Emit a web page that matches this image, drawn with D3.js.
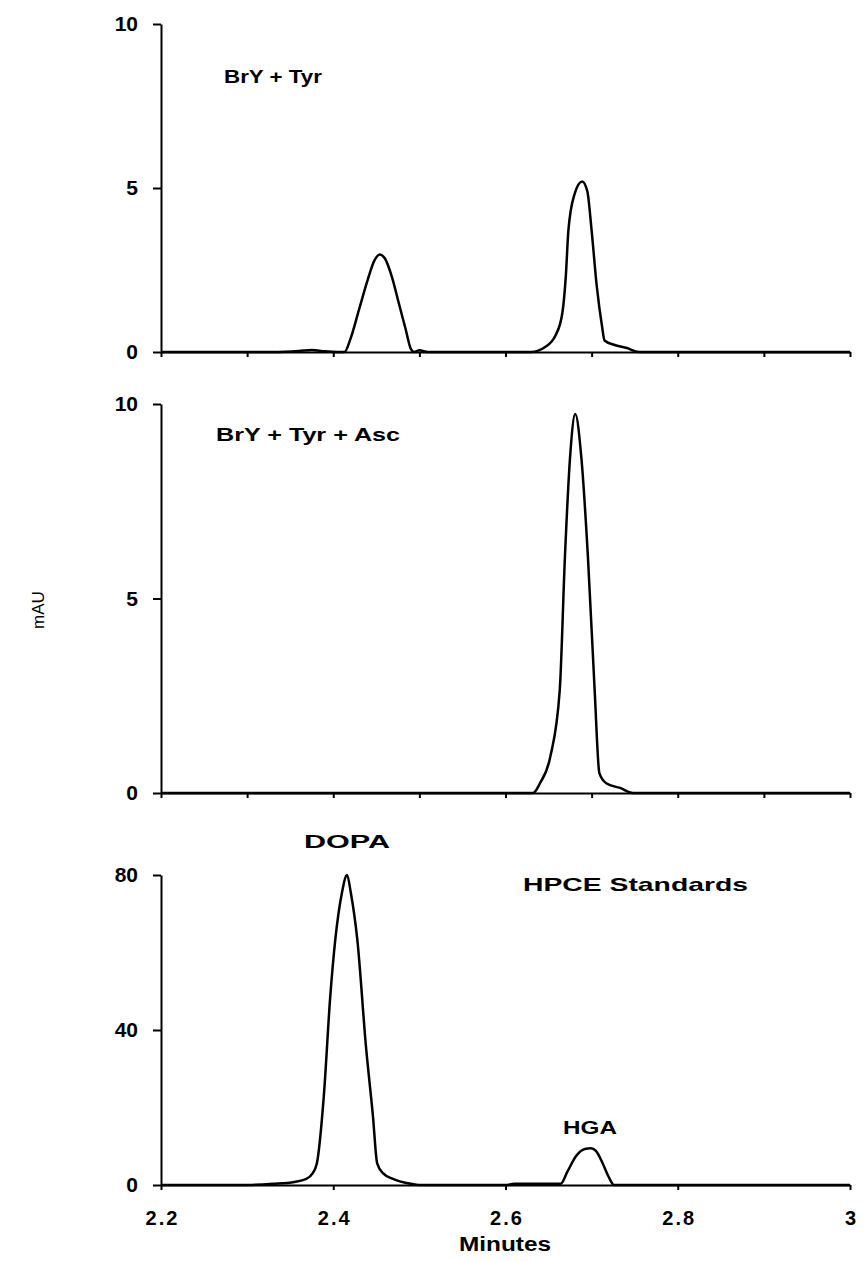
<!DOCTYPE html>
<html>
<head>
<meta charset="utf-8">
<script src="https://cdn.jsdelivr.net/npm/d3@7"></script>
<style>
  body { margin: 0; background: #fff; }
  text { font-family: "Liberation Sans", Arial, sans-serif; fill: #000; }
  .lbl { font-weight: bold; }
</style>
</head>
<body>
<div id="chart"></div>
<script>
// chromatogram data (minutes, mAU)
const timeTyr = [2.2, 2.33, 2.36, 2.375, 2.39, 2.405, 2.413, 2.42, 2.43, 2.44, 2.448, 2.454, 2.46, 2.468, 2.476, 2.484, 2.49, 2.494, 2.5, 2.51, 2.52,
                 2.6, 2.63, 2.646, 2.658, 2.666, 2.67, 2.673, 2.68, 2.689, 2.695, 2.7, 2.706, 2.712, 2.715, 2.726, 2.741, 2.755, 3.0]
const mauTyr  = [0, 0, 0.03, 0.06, 0.02, 0, 0, 0.4, 1.3, 2.2, 2.8, 2.97, 2.85, 2.3, 1.5, 0.7, 0.1, 0, 0.05, 0, 0,
                 0, 0, 0.15, 0.5, 1.19, 2.3, 3.7, 4.8, 5.2, 4.9, 3.7, 2.0, 0.8, 0.35, 0.22, 0.12, 0, 0]

const timeAsc = [2.2, 2.6, 2.632, 2.64, 2.652, 2.663, 2.669, 2.675, 2.681, 2.688, 2.6957, 2.7035, 2.709, 2.717, 2.733, 2.748, 3.0]
const mauAsc  = [0, 0, 0, 0.25, 0.93, 2.65, 6.07, 8.64, 9.74, 8.64, 6.07, 2.65, 0.51, 0.25, 0.13, 0, 0]

const timeStd = [2.2, 2.3, 2.33, 2.355, 2.368, 2.376, 2.381, 2.389, 2.3965, 2.4023, 2.41, 2.416, 2.4205, 2.428, 2.438, 2.446, 2.451, 2.458, 2.47, 2.49, 2.5,
                 2.6, 2.61, 2.655, 2.664, 2.672, 2.682, 2.692, 2.699, 2.705, 2.713, 2.72, 2.726, 3.0]
const mauStd  = [0, 0, 0.3, 0.8, 1.5, 3, 5.6, 22.8, 48.6, 63.2, 75.3, 80, 75.3, 63.2, 35.7, 18, 5.6, 3, 1.5, 0.3, 0,
                 0, 0.3, 0.3, 0.3, 3.5, 7.5, 9.3, 9.5, 8.8, 5.5, 2.0, 0, 0]

const xTicksMinor = [2.2, 2.3, 2.4, 2.5, 2.6, 2.7, 2.8, 2.9, 3.0]
const xTicksMajor = [2.2, 2.4, 2.6, 2.8, 3.0]
const yTicksSmall = [0, 5, 10]
const yTicksStd = [0, 40, 80]

const W = 867, H = 1261

const svg = d3.select("#chart").append("svg")
    .attr("width", W)
    .attr("height", H)

const x = d3.scaleLinear().domain([2.2, 3.0]).range([161, 850])

// one panel per trace
const panels = [
  { t: timeTyr, v: mauTyr, max: 10, ticks: yTicksSmall, top: 24, bottom: 352 },
  { t: timeAsc, v: mauAsc, max: 10, ticks: yTicksSmall, top: 404, bottom: 793 },
  { t: timeStd, v: mauStd, max: 80, ticks: yTicksStd, top: 875, bottom: 1185 }
]

panels.forEach((p, i) => {
  const y = d3.scaleLinear().domain([0, p.max]).range([p.bottom, p.top])
  const last = i === panels.length - 1

  const xAxis = d3.axisBottom(x)
      .tickValues(last ? xTicksMajor : xTicksMinor)
      .tickSize(5)
      .tickSizeOuter(0)
      .tickPadding(21)
      .tickFormat(last ? d3.format("~g") : "")

  const gx = svg.append("g")
      .attr("transform", "translate(0," + p.bottom + ")")
      .call(xAxis)
  gx.selectAll("text")
      .attr("class", "lbl")
      .attr("dx", "1px")
      .style("font-size", "20px")
      .style("letter-spacing", "2px")

  const yAxis = d3.axisLeft(y)
      .tickValues(p.ticks)
      .tickSize(8)
      .tickSizeOuter(0)
      .tickPadding(15)

  const gy = svg.append("g")
      .attr("transform", "translate(161,0)")
      .call(yAxis)
  gy.selectAll("text").attr("class", "lbl").style("font-size", "21px")

  svg.selectAll(".domain, .tick line")
      .attr("stroke", "#000")
      .attr("stroke-width", 2)

  const line = d3.line()
      .x(d => x(d[0]))
      .y(d => y(d[1]))
      .curve(d3.curveMonotoneX)

  svg.append("path")
      .datum(d3.zip(p.t, p.v))
      .attr("fill", "none")
      .attr("stroke", "#000")
      .attr("stroke-width", 2.5)
      .attr("stroke-linejoin", "round")
      .attr("d", line)
})

// annotations
const notes = [
  { text: "BrY + Tyr", x: 224, y: 83, w: 98 },
  { text: "BrY + Tyr + Asc", x: 216, y: 441, w: 184 },
  { text: "DOPA", x: 304, y: 848, w: 86 },
  { text: "HPCE Standards", x: 523, y: 891, w: 225 },
  { text: "HGA", x: 563, y: 1134, w: 54 }
]
svg.selectAll(".note")
    .data(notes)
    .enter()
    .append("text")
    .attr("class", "note lbl")
    .attr("x", d => d.x)
    .attr("y", d => d.y)
    .attr("textLength", d => d.w)
    .attr("lengthAdjust", "spacingAndGlyphs")
    .style("font-size", "19px")
    .text(d => d.text)

svg.append("text")
    .attr("class", "lbl")
    .attr("x", 505)
    .attr("y", 1251)
    .attr("text-anchor", "middle")
    .attr("textLength", 92)
    .attr("lengthAdjust", "spacingAndGlyphs")
    .style("font-size", "20px")
    .text("Minutes")

svg.append("text")
    .attr("transform", "translate(44,610) rotate(-90)")
    .attr("text-anchor", "middle")
    .style("font-size", "17px")
    .text("mAU")
</script>
</body>
</html>
